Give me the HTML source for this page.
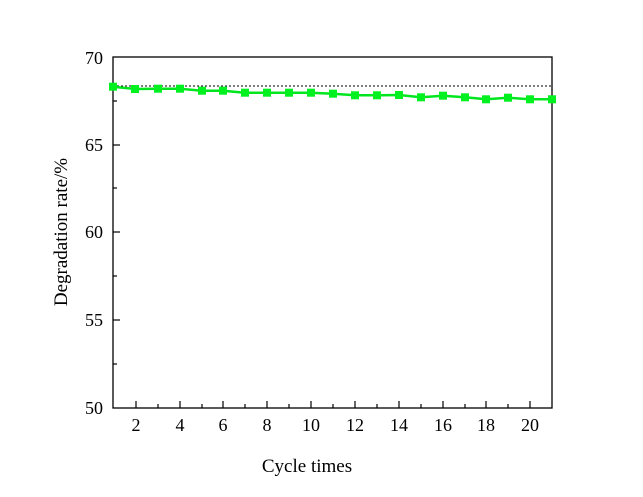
<!DOCTYPE html><html><head><style>body{margin:0;background:#fff}</style></head><body>
<svg width="643" height="492" xmlns="http://www.w3.org/2000/svg" font-family="Liberation Serif, serif">
<rect x="113" y="57" width="439" height="351" fill="none" stroke="#000" stroke-width="1.3"/>
<line x1="113" y1="86" x2="552" y2="86" stroke="#000" stroke-dasharray="2,2" stroke-width="1"/>
<g stroke="#000" stroke-width="1.2">
<line x1="136" y1="408" x2="136" y2="401"/><line x1="180" y1="408" x2="180" y2="401"/><line x1="223" y1="408" x2="223" y2="401"/><line x1="267" y1="408" x2="267" y2="401"/><line x1="311" y1="408" x2="311" y2="401"/><line x1="355" y1="408" x2="355" y2="401"/><line x1="399" y1="408" x2="399" y2="401"/><line x1="443" y1="408" x2="443" y2="401"/><line x1="486" y1="408" x2="486" y2="401"/><line x1="530" y1="408" x2="530" y2="401"/>
<line x1="158" y1="408" x2="158" y2="404"/><line x1="202" y1="408" x2="202" y2="404"/><line x1="245" y1="408" x2="245" y2="404"/><line x1="289" y1="408" x2="289" y2="404"/><line x1="333" y1="408" x2="333" y2="404"/><line x1="377" y1="408" x2="377" y2="404"/><line x1="421" y1="408" x2="421" y2="404"/><line x1="465" y1="408" x2="465" y2="404"/><line x1="508" y1="408" x2="508" y2="404"/>
<line x1="113" y1="145" x2="120" y2="145"/><line x1="113" y1="232" x2="120" y2="232"/><line x1="113" y1="320" x2="120" y2="320"/>
<line x1="113" y1="101" x2="117" y2="101"/><line x1="113" y1="188" x2="117" y2="188"/><line x1="113" y1="276" x2="117" y2="276"/><line x1="113" y1="364" x2="117" y2="364"/>
</g>
<g font-size="18" text-anchor="middle">
<text x="136" y="431">2</text><text x="180" y="431">4</text><text x="223" y="431">6</text><text x="267" y="431">8</text><text x="311" y="431">10</text><text x="355" y="431">12</text><text x="399" y="431">14</text><text x="443" y="431">16</text><text x="486" y="431">18</text><text x="530" y="431">20</text>
</g>
<g font-size="18" text-anchor="end">
<text x="103" y="64">70</text><text x="103" y="151">65</text><text x="103" y="238">60</text><text x="103" y="326">55</text><text x="103" y="414">50</text>
</g>
<text x="307" y="472" font-size="19" text-anchor="middle">Cycle times</text>
<text transform="translate(67,232) rotate(-90)" font-size="19" text-anchor="middle">Degradation rate/%</text>
<polyline fill="none" stroke="#00e61e" stroke-width="2.5" points="113,86.7 135,89 158,88.7 180,88.7 202,90.7 223,90.7 245,92.7 267,92.7 289,92.7 311,92.7 333,93.7 355,95.3 377,95.3 399,95 421,97.3 443,95.7 465,97.3 486,99.3 508,97.7 530,99.3 552,99.3"/>
<g fill="#00f020">
<rect x="109" y="82.7" width="8" height="8"/><rect x="131" y="85" width="8" height="8"/><rect x="154" y="84.7" width="8" height="8"/><rect x="176" y="84.7" width="8" height="8"/><rect x="198" y="86.7" width="8" height="8"/><rect x="219" y="86.7" width="8" height="8"/><rect x="241" y="88.7" width="8" height="8"/><rect x="263" y="88.7" width="8" height="8"/><rect x="285" y="88.7" width="8" height="8"/><rect x="307" y="88.7" width="8" height="8"/><rect x="329" y="89.7" width="8" height="8"/><rect x="351" y="91.3" width="8" height="8"/><rect x="373" y="91.3" width="8" height="8"/><rect x="395" y="91" width="8" height="8"/><rect x="417" y="93.3" width="8" height="8"/><rect x="439" y="91.7" width="8" height="8"/><rect x="461" y="93.3" width="8" height="8"/><rect x="482" y="95.3" width="8" height="8"/><rect x="504" y="93.7" width="8" height="8"/><rect x="526" y="95.3" width="8" height="8"/><rect x="548" y="95.3" width="8" height="8"/>
</g>
</svg>
</body></html>
